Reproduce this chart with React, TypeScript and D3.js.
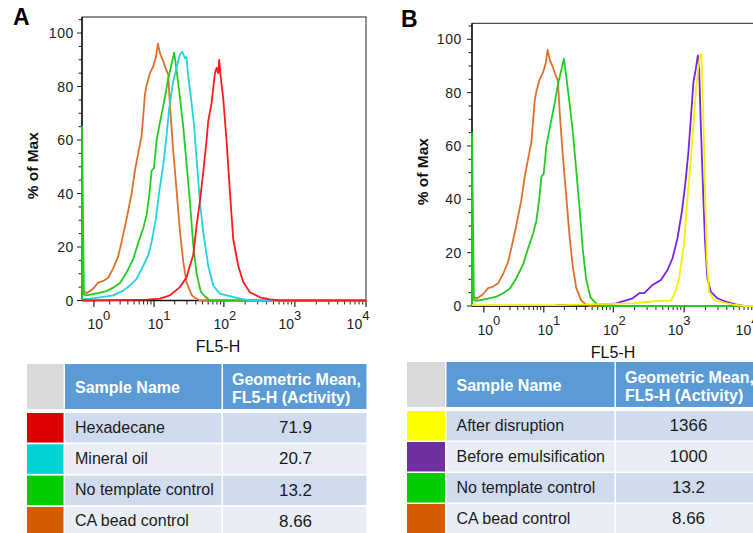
import React, { useEffect, useRef } from "react";
import * as d3 from "d3";

type Pt = [number, number];

// histogram outlines: [FL5-H, % of Max]
const caBead: Pt[] = [
  [0.52, 4], [0.69, 2.7], [0.97, 4.5], [1.22, 6.7], [1.53, 7.3], [1.88, 8.5], [2.3, 12], [2.79, 16.5],
  [3.18, 22], [3.82, 30.5], [4.58, 40], [5.15, 48.5], [5.79, 55], [6.52, 61.5], [6.9, 69], [7.31, 77],
  [7.76, 80.5], [8.69, 85], [9.72, 87.5], [10.66, 91], [11.4, 96], [12.2, 92.5], [13.63, 89.5],
  [14.92, 86.5], [16.11, 84.5], [17.05, 73], [19.03, 56], [21.3, 41], [23.76, 26], [26.5, 14.5],
  [29.6, 6.8], [34.9, 2.1], [38.9, 1], [45.8, 0], [10000, 0],
];

const noTemplate: Pt[] = [
  [0.52, 0], [0.52, 65], [0.585, 2.2], [0.685, 1.9], [1.14, 2.7], [1.76, 3.5], [2.3, 4.8], [2.98, 6.5],
  [3.82, 10.5], [4.85, 15.5], [5.79, 21.5], [6.9, 27], [7.76, 32], [8.54, 40], [9.21, 48.5], [9.96, 49.5],
  [10.91, 60], [12.2, 66.5], [14.43, 76], [16.11, 83], [18.04, 88.5], [19.67, 92.7], [21.3, 86],
  [23.76, 76], [26.5, 65], [29.6, 51], [33, 37], [36.8, 21], [41.1, 10], [47.35, 3.2], [55.8, 1.2],
  [63.5, 0], [10000, 0],
];

const mineralOil: Pt[] = [
  [0.52, 0.5], [0.82, 0.7], [1.32, 1.2], [2.3, 1.9], [3.37, 3.7], [4.31, 5.6], [5.47, 8.1], [6.9, 13],
  [8.2, 16.9], [9.21, 21.9], [10.66, 30.6], [11.91, 40.6], [13.63, 50.6], [15.27, 61.9], [16.66, 72],
  [19.03, 81.9], [21.73, 88], [23.76, 92], [25.6, 93], [28, 90.6], [29.6, 91], [31.2, 84], [34.1, 76],
  [37.7, 66], [41.1, 53], [45.8, 37], [51.1, 25.6], [60.1, 13], [70.8, 5.6], [88, 2.5], [121.8, 1.6],
  [168.5, 0.7], [233, 0], [10000, 0],
];

const hexadecane: Pt[] = [
  [0.52, 0], [7.84, 0.3], [12.2, 0.7], [17.05, 1.9], [23.76, 5], [29.6, 8.7], [33, 13], [36.8, 17],
  [41.1, 28], [45.8, 37], [51.1, 48], [57, 60], [60.1, 67], [67.2, 74], [74.8, 85], [79, 87], [83.3, 85],
  [86, 90], [90, 84], [98, 75.6], [109.5, 59.4], [121.8, 40.6], [135.6, 23], [159.5, 13], [187.6, 6.9],
  [233, 3.1], [322.5, 1.2], [446, 0.4], [616.5, 0], [10000, 0],
];

const beforeEmulsification: Pt[] = [
  [15.4, 0.4], [63.6, 0.5], [109.5, 1], [187.6, 2.9], [233, 4.8], [274, 4.8], [359, 7.9], [471, 9.75],
  [583, 13.5], [686, 17.9], [806, 25.4], [930, 35.4], [1035, 45.4], [1151, 57.9], [1245, 70.4],
  [1354, 84], [1463, 89], [1562, 94], [1629, 89], [1720, 67.9], [1853, 42.9], [1976, 24], [2130, 10.4],
  [2378, 5.4], [2945, 2.9], [3865, 1.6], [5341, 0.6], [6990, 0], [10000, 0],
];

const afterDisruption: Pt[] = [
  [0.52, 0.3], [17.05, 0.3], [187.6, 1], [322.5, 1.6], [446, 1.9], [651, 1.9], [725, 4.1], [852, 10.4],
  [1002, 24], [1115, 40.4], [1245, 55.4], [1354, 67.9], [1463, 80.4], [1577, 89], [1682, 94],
  [1755, 94.4], [1853, 74], [1976, 42.9], [2090, 17.9], [2252, 5.4], [2647, 2.2], [3463, 1.4],
  [4784, 0.6], [6990, 0], [10000, 0],
];

const yTicks = [0, 20, 40, 60, 80, 100];
const decades = [0, 1, 2, 3, 4];

const tableANames = ["Hexadecane", "Mineral oil", "No template control", "CA bead control"];
const tableAMeans = ["71.9", "20.7", "13.2", "8.66"];
const tableBNames = ["After disruption", "Before emulsification", "No template control", "CA bead control"];
const tableBMeans = ["1366", "1000", "13.2", "8.66"];

const FONT = "'Liberation Sans', Arial, sans-serif";

const panels = [
  {
    letter: "A", lx: 13, ly: 25,
    left: 82, right: 366, top: 17, bottom: 300.5,
    xTitleX: 218, yTitleX: 38, tickRight: 74,
    lines: [
      { data: caBead, color: "#e0702a" },
      { data: noTemplate, color: "#22cc22" },
      { data: mineralOil, color: "#22d3dd" },
      { data: hexadecane, color: "#ff1a1a" },
    ],
    table: {
      edges: [27, 65, 223, 368], headTop: 364, rowTops: [413, 444.3, 475.6, 506.9],
      swatches: ["#de0000", "#00d3d3", "#00cc00", "#d55b00"],
      names: tableANames, means: tableAMeans,
    },
  },
  {
    letter: "B", lx: 401, ly: 26.5,
    left: 472, right: 755, top: 23.3, bottom: 306,
    xTitleX: 613, yTitleX: 428, tickRight: 462,
    lines: [
      { data: caBead, color: "#e0702a" },
      { data: noTemplate, color: "#22cc22" },
      { data: beforeEmulsification, color: "#7b22e8" },
      { data: afterDisruption, color: "#f2f200" },
    ],
    table: {
      edges: [407, 446.5, 616, 761], headTop: 362, rowTops: [411, 442, 473, 504],
      swatches: ["#ffff00", "#7030a0", "#00cc00", "#d55b00"],
      names: tableBNames, means: tableBMeans,
    },
  },
];

// FlowJo-style labels are not centred on their ticks
const labelShift = [5, 5, 1, -5, -8];

function drawPanel(svg: any, p: any) {
  const x = d3.scaleSymlog().constant(0.5).domain([0.52, 10000]).range([p.left, p.right]);
  const y = d3.scaleLinear().domain([0, 106]).range([p.bottom, p.top]);
  const g = svg.append("g");

  g.append("text").attr("x", p.lx).attr("y", p.ly).attr("font-size", 23).attr("font-weight", "bold")
    .attr("font-family", FONT).text(p.letter);

  // frame
  g.append("rect").attr("x", p.left).attr("y", p.top).attr("width", p.right - p.left)
    .attr("height", p.bottom - p.top).attr("fill", "none").attr("stroke", "#222").attr("stroke-width", 1);

  // y ticks
  for (let v = 0; v <= 105; v += 5) {
    const major = v % 20 === 0;
    g.append("line").attr("x1", p.left - (major ? 5 : 3.5)).attr("x2", p.left)
      .attr("y1", y(v)).attr("y2", y(v)).attr("stroke", "#222").attr("stroke-width", 1);
  }
  g.selectAll(".yl").data(yTicks).enter().append("text")
    .attr("x", p.tickRight).attr("y", (d: number) => y(d) + 5).attr("text-anchor", "end")
    .attr("font-size", 14).attr("letter-spacing", 0.6).attr("font-family", FONT).attr("fill", "#222")
    .text((d: number) => d);

  // x ticks
  decades.forEach((d) => {
    const v = Math.pow(10, d);
    g.append("line").attr("x1", x(v)).attr("x2", x(v)).attr("y1", p.bottom).attr("y2", p.bottom + 6.5)
      .attr("stroke", "#222").attr("stroke-width", 1.2);
    if (d < 4) {
      for (let k = 2; k <= 9; k++) {
        g.append("line").attr("x1", x(k * v)).attr("x2", x(k * v)).attr("y1", p.bottom)
          .attr("y2", p.bottom + 4).attr("stroke", "#222").attr("stroke-width", 1);
      }
    }
    const t = g.append("text").attr("x", x(v) + labelShift[d]).attr("y", p.bottom + 28.5)
      .attr("text-anchor", "middle").attr("font-size", 14).attr("font-family", FONT).attr("fill", "#222");
    t.append("tspan").text("10");
    t.append("tspan").attr("dy", -9.5).attr("font-size", 13).text(d);
  });

  // axis lines
  g.append("line").attr("x1", p.left).attr("x2", p.left).attr("y1", p.top).attr("y2", p.bottom)
    .attr("stroke", "#111").attr("stroke-width", 1.4);
  g.append("line").attr("x1", p.left).attr("x2", p.right).attr("y1", p.bottom).attr("y2", p.bottom)
    .attr("stroke", "#111").attr("stroke-width", 1.4);

  const line = d3.line<Pt>().x((d) => x(d[0])).y((d) => y(d[1]));
  p.lines.forEach((s: any) => {
    g.append("path").datum(s.data).attr("d", line).attr("fill", "none").attr("stroke", s.color)
      .attr("stroke-width", 1.8).attr("stroke-linejoin", "round");
  });

  // axis titles
  g.append("text").attr("x", p.xTitleX).attr("y", p.bottom + 51.5).attr("text-anchor", "middle")
    .attr("font-size", 16).attr("font-family", FONT).attr("fill", "#111").text("FL5-H");
  g.append("text").attr("transform", `translate(${p.yTitleX},${(p.top + p.bottom) / 2 + 7}) rotate(-90)`)
    .attr("text-anchor", "middle").attr("font-size", 15.5).attr("font-weight", "bold")
    .attr("font-family", FONT).attr("fill", "#111").text("% of Max");

  // table
  const tb = p.table;
  const e = tb.edges;
  const gap = 1.5;
  const headH = 45;
  const rowH = 29.5;
  g.append("rect").attr("x", e[0]).attr("y", tb.headTop).attr("width", e[1] - e[0] - gap).attr("height", headH)
    .attr("fill", "#d9d9d9");
  [1, 2].forEach((c) => {
    g.append("rect").attr("x", e[c]).attr("y", tb.headTop).attr("width", e[c + 1] - e[c] - gap)
      .attr("height", headH).attr("fill", "#5b9bd5");
  });
  g.append("text").attr("x", e[1] + 10).attr("y", tb.headTop + 29).attr("font-size", 16)
    .attr("font-weight", "bold").attr("fill", "#fff").attr("font-family", FONT).text("Sample Name");
  g.append("text").attr("x", e[2] + 9).attr("y", tb.headTop + 21).attr("font-size", 16)
    .attr("font-weight", "bold").attr("fill", "#fff").attr("font-family", FONT).text("Geometric Mean,");
  g.append("text").attr("x", e[2] + 9).attr("y", tb.headTop + 39).attr("font-size", 16)
    .attr("font-weight", "bold").attr("fill", "#fff").attr("font-family", FONT).text("FL5-H (Activity)");

  tb.names.forEach((name: string, i: number) => {
    const top = tb.rowTops[i];
    const fill = i % 2 === 0 ? "#d0dcee" : "#e9eef6";
    g.append("rect").attr("x", e[0]).attr("y", top).attr("width", e[1] - e[0] - gap).attr("height", rowH)
      .attr("fill", tb.swatches[i]);
    [1, 2].forEach((c) => {
      g.append("rect").attr("x", e[c]).attr("y", top).attr("width", e[c + 1] - e[c] - gap)
        .attr("height", rowH).attr("fill", fill);
    });
    g.append("text").attr("x", e[1] + 10).attr("y", top + 19.5).attr("font-size", 16)
      .attr("fill", "#1a1a1a").attr("font-family", FONT).text(name);
    g.append("text").attr("x", (e[2] + e[3]) / 2).attr("y", top + 20).attr("font-size", 17)
      .attr("text-anchor", "middle").attr("fill", "#1a1a1a").attr("font-family", FONT).text(tb.means[i]);
  });
}

export default function App() {
  const svgRef = useRef<SVGSVGElement>(null);

  useEffect(() => {
    const svg = d3.select(svgRef.current);
    svg.selectAll("*").remove();
    panels.forEach((p) => drawPanel(svg, p));
  }, []);

  return (
    <svg
      ref={svgRef}
      width={753}
      height={533}
      style={{ position: "absolute", left: 0, top: 0, background: "#fff" }}
    />
  );
}
